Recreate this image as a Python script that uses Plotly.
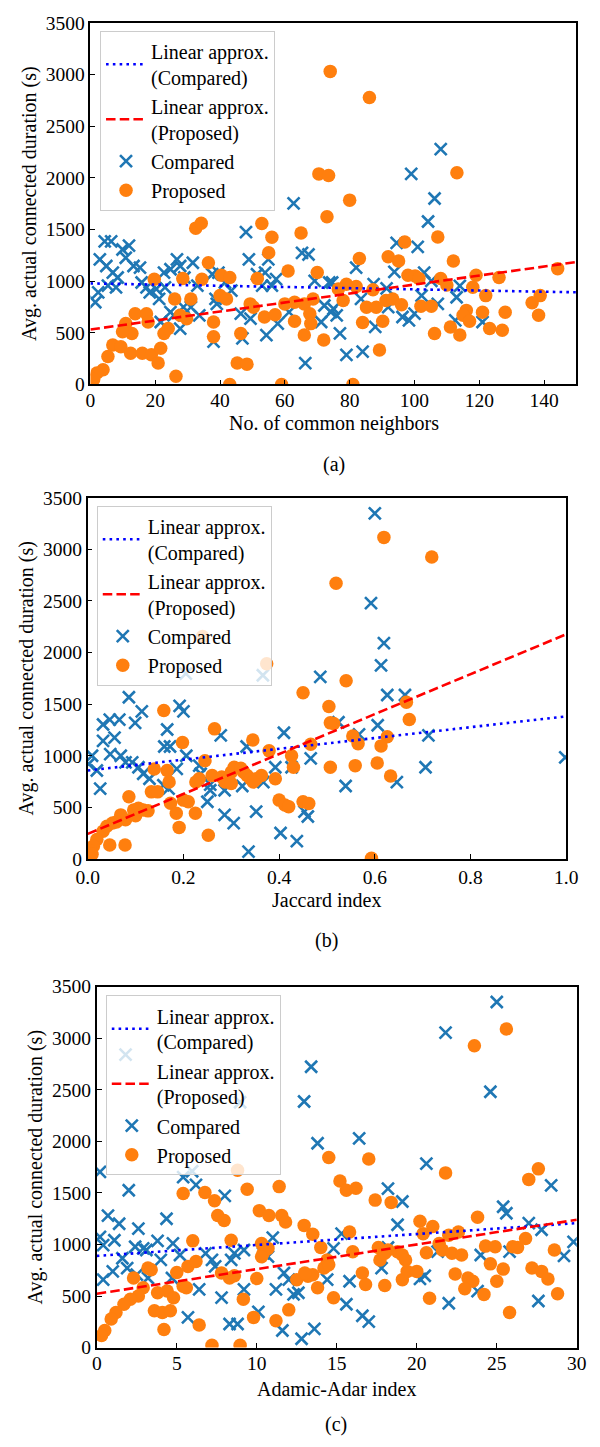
import plotly.graph_objects as go

# ---------------- data ----------------
# Panel (a): No. of common neighbors
a_compared = [(62.7,1752),(48,1475),(4.4,1385),(6.4,1385),(2.9,1210),(4.9,1147),(2.4,892),(1.5,796),(9.9,1306),(11.9,1344),
              (10.9,1226),(13.3,1147),(15.3,1131),(6.9,1083),(8.4,1035),(5.4,956),(7.9,940),(15.8,987),(17.3,940),(18.3,892),
              (20.3,924),(22.7,1083),(24.7,1115),(26.7,1210),(27.7,1147),(31.6,1178),(29,1035),(33,956),(21.2,828),(23,940),
              (28.7,748),(31,748),(33.6,669),(21.7,605),(27.7,541),(39.5,1083),(37.6,1067),(41.5,987),(43.5,908),(38.6,828),
              (39,780),(46.4,685),(48.9,1210),(51.4,1067),(49.4,637),(53.9,1083),(54.9,1210),(57.3,1019),(56,956),(53,956),
              (61.3,700),(57.8,589),(54.3,478),(46.9,446),(38,414),(65.3,1274),(67.3,1258),(69.2,1003),(66.3,207),(71.2,605),
              (72.2,764),(74.2,700),(73.7,987),(24.7,700),(25.7,669),
              (108.1,2277),(99,2038),(106.2,1800),(104.2,1577),(94.5,1370),(101,1331),(82,1131),(93.8,1089),(103,1083),(105.2,1003),
              (87.4,971),(74.6,987),(91.4,930),(114,955),(102.2,860),(113,844),(83.5,828),(107.2,780),(91.9,748),(75,733),
              (76,669),(96.3,653),(98.3,621),(100,685),(87.9,557),(112.6,621),(121,605),(77,494),(79,287),(84,318)]
a_proposed = [(74,3030),(32.5,1513),(34.2,1561),(52.9,1557),(56,1424),(55,1274),(65,1465),(73,1624),(70.5,2038),(73.5,2022),
              (61,1099),(70,1083),(36.4,1178),(40.4,1057),(43,1035),(51.5,1025),(34.4,1019),(28.5,1025),(19.7,1019),(40,860),
              (42,828),(26,828),(31,828),(13.8,685),(17.3,685),(10.9,589),(12.8,494),(9.9,510),(22.7,494),(24,541),
              (27.7,669),(29.7,637),(17.8,605),(38,605),(38,462),(46.4,494),(49.3,780),(50.3,748),(53.7,653),(57,675),
              (60,780),(63,796),(66,780),(68.7,828),(67.7,685),(68,589),(63,611),(66,478),(72,430),(6.9,382),
              (9.4,366),(5.4,271),(12.4,303),(16,303),(18.8,287),(21.7,350),(20.9,207),(3.9,143),(2,111),(1,48),
              (26.4,80),(45.3,207),(48.3,197),(43,0),(59,0),
              (86.1,2777),(113.1,2048),(80,1784),(107.2,1427),(97,1379),(83,1220),(91.9,1236),(95.1,1194),(112,1194),(98,1057),
              (100.2,1051),(101.4,1025),(108.1,1025),(110,962),(119,1057),(126.1,1035),(144.2,1121),(82,949),(79,971),(76.5,924),
              (87.2,917),(118,940),(122,860),(138.8,860),(136.3,790),(78,812),(85.2,748),(88.2,748),(91.2,812),(93.3,828),
              (96,771),(102,758),(105.2,758),(116,717),(121,700),(128,700),(138.3,669),(84,599),(90.2,611),(111.1,557),
              (115,669),(117,611),(106.2,494),(114,478),(123.2,541),(127.1,525),(89.2,334),(81,0)]
a_fit_x = [0, 150]
a_fit_compared = [978, 892]
a_fit_proposed = [532, 1185]

# Panel (b): Jaccard index
b_compared = [(0.6,3349),(0.592,2480),(0.619,2092),(0.613,1876),(0.626,1590),(0.663,1590),(0.606,1297),(0.524,1326),(0.567,1208),(0.712,1199),
              (0.706,890),(0.539,709),(0.646,747),(0.998,986),
              (0.205,1797),(0.366,1781),(0.486,1765),(0.086,1568),(0.113,1431),(0.099,1320),(0.192,1485),(0.2,1431),(0.032,1304),(0.046,1352),
              (0.066,1352),(0.032,1145),(0.056,1177),(0.009,1002),(0.002,922),(0.047,1018),(0.069,1002),(0.079,938),(0.093,938),(0.106,890),
              (0.116,827),(0.129,779),(0.026,684),(0.019,859),(0.166,1256),(0.16,1091),(0.172,1091),(0.278,1199),(0.332,1091),(0.206,1002),
              (0.186,874),(0.233,906),(0.236,827),(0.256,722),(0.256,668),(0.25,556),(0.158,716),(0.169,684),(0.286,668),(0.323,709),
              (0.367,747),(0.392,890),(0.41,1224),(0.426,890),(0.286,429),(0.305,350),(0.352,461),(0.403,254),(0.437,175),(0.336,73),
              (0.453,461),(0.46,413),(0.466,976)]
b_proposed = [(0.519,2671),(0.619,3116),(0.719,2926),(0.54,1727),(0.504,1479),(0.666,1520),(0.672,1352),(0.514,1313),(0.554,1193),(0.565,1119),
              (0.626,1186),(0.613,1097),(0.507,890),(0.559,906),(0.605,932),(0.633,805),(0.593,10),
              (0.24,2156),(0.374,1892),(0.45,1612),(0.507,1320),(0.159,1440),(0.265,1262),(0.198,1129),(0.345,1154),(0.379,1049),
              (0.426,1002),(0.466,1113),(0.245,954),(0.139,874),(0.166,859),(0.17,747),(0.26,811),(0.28,795),(0.3,843),(0.306,890),
              (0.32,880),(0.326,843),(0.333,811),(0.34,779),(0.353,779),(0.363,811),(0.287,747),(0.3,732),(0.346,747),(0.226,747),
              (0.233,779),(0.133,652),(0.146,652),(0.173,541),(0.2,572),(0.21,556),(0.185,445),(0.225,445),(0.191,308),(0.252,232),
              (0.086,604),(0.069,429),(0.096,477),(0.106,493),(0.116,477),(0.126,468),(0.079,381),(0.052,350),(0.032,270),(0.078,137),
              (0.046,137),(0.019,191),(0.012,127),(0.006,79),(0.009,48),(0.4,572),(0.412,525),(0.42,509),(0.45,556),(0.462,540),
              (0.392,779),(0.43,890),(0.04,318),(0.06,360),(0.1,420)]
b_fit_x = [0, 1]
b_fit_compared = [859, 1383]
b_fit_proposed = [245, 2178]

# Panel (c): Adamic-Adar index
c_compared = [(13.4,2723),(12.96,2386),(8.96,2379),(1.8,2841),(13.8,1981),(0.2,1704),(5.4,1653),(5.96,1710),(6.2,1577),(2,1526),
              (8,1471),(0.7,1280),(1.4,1201),(4.36,1249),(2.6,1153),(0.2,1073),(0.4,994),(1.1,1041),(2.4,978),(2.9,962),
              (3.1,946),(3.8,1035),(4.76,1010),(5.2,898),(1.6,866),(4,850),(6.8,914),(7.2,850),(7.4,787),(8.4,850),
              (8.6,914),(9.2,946),(11,1067),(10.4,914),(10.7,882),(0.4,659),(1,739),(1.9,771),(2.5,707),(3.2,675),
              (4.7,675),(6.4,564),(7.8,484),(9.2,564),(11.2,564),(11.7,723),(12,659),(12.3,516),(12.6,532),(10.1,347),
              (5.7,293),(8.3,229),(8.8,229),(11.6,166),(12.8,86),(13.6,182),(14.4,659),
              (25,3351),(21.8,3054),(24.6,2481),(16.4,2029),(20.6,1784),(18.2,1542),(19.1,1417),(28.4,1573),(25.4,1366),(25.6,1303),
              (18.8,1191),(27,1207),(27.8,1143),(15.3,1105),(14.8,962),(18.2,971),(21.3,930),(24,898),(25.8,930),(29.2,889),
              (29.8,1025),(17.8,771),(15.8,643),(20.2,666),(20.5,697),(23.8,548),(15.6,420),(16.6,309),(17,252),(22,430),(27.6,452)]
c_proposed = [(8.8,1720),(5.4,1494),(6.76,1503),(7.36,1424),(9.4,1535),(11.4,1561),(14.5,1844),(7.56,1280),(7.96,1233),(10.16,1328),
              (10.76,1280),(11.56,1280),(11.8,1217),(12.96,1185),(13.5,1099),(14,971),(6,1035),(8.4,1041),(10.3,1010),(10.7,962),
              (10.4,914),(10.3,880),(3.2,771),(3.4,755),(5,729),(5.7,787),(6.2,834),(2.3,675),(7.8,723),(8.3,675),
              (8.6,697),(10,669),(12.5,659),(13.2,691),(13.5,707),(13.8,580),(14.2,771),(14.4,850),(2.9,580),(2.6,500),
              (2.1,468),(3.8,532),(4.4,548),(4.8,484),(5.4,595),(5.6,580),(1.7,420),(1.2,341),(0.9,277),(0.5,166),
              (0.3,118),(3.6,357),(4.1,341),(4.6,357),(4.2,175),(6.4,220),(9.16,468),(9.8,293),(11.2,261),(12,366),
              (7.2,22),(8.96,22),(13,723),
              (25.6,3090),(23.6,2927),(17,1828),(21.8,1694),(15.2,1615),(15.6,1526),(16.2,1545),(17.4,1430),(18.4,1408),(27,1631),
              (27.6,1733),(15.8,1121),(20.2,1226),(21,1175),(20.4,1105),(23.8,1264),(22,1089),(22.6,1121),(17.6,971),(16,930),
              (18.2,946),(18.8,930),(19.1,898),(19.3,850),(17.7,850),(18,914),(20.6,920),(21.4,1010),(21.6,946),(22.2,914),
              (22.8,898),(24.3,984),(24.9,978),(26,978),(26.3,971),(26.8,1057),(28.6,946),(24.6,812),(25.4,761),(16.6,723),
              (16.8,611),(18,602),(19.1,659),(19.4,739),(20,739),(22.4,713),(23.2,675),(23.5,643),(23,570),(24.2,516),
              (25,643),(27.2,771),(27.8,739),(28.2,666),(28.8,522),(25.8,341),(14.8,484),(20.8,478),(14.5,803)]
c_fit_x = [0, 30]
c_fit_compared = [889, 1207]
c_fit_proposed = [522, 1239]

y_ticks = [0, 500, 1000, 1500, 2000, 2500, 3000, 3500]
a_xticks = [0, 20, 40, 60, 80, 100, 120, 140]
b_xticks = [0.0, 0.2, 0.4, 0.6, 0.8, 1.0]
b_xticklabels = ["0.0", "0.2", "0.4", "0.6", "0.8", "1.0"]
c_xticks = [0, 5, 10, 15, 20, 25, 30]

x_titles = ["No. of common neighbors", "Jaccard index", "Adamic-Adar index"]
y_title = "Avg. actual connected duration (s)"
sub_labels = ["(a)", "(b)", "(c)"]

# ---------------- styling / layout ----------------
W, H = 600, 1447
FONT = "Liberation Serif, Times New Roman, serif"
BLUE = "#1f77b4"
ORANGE = "#ff7f0e"

# plot areas in pixels: (left, right, top, bottom)
areas = [(81.7, 588.0, 13.0, 380.0),
         (78.9, 577.3, 494.9, 861.7),
         (88.3, 588.3, 991.0, 1357.3)]
x_standoff = [-3, 0, -3]
x_title_px = [(335, 420), (328, 903), (338, 1399)]
sub_px = [(335, 461), (328, 944), (338, 1435)]
y_title_px = [(18, 196.5), (15, 678), (24.5, 1174)]
legend_px = [(91.7, 21), (88.3, 503), (97.7, 999.7)]

panels = [
    (a_compared, a_proposed, a_fit_x, a_fit_compared, a_fit_proposed, [0, 150], a_xticks, [str(v) for v in a_xticks]),
    (b_compared, b_proposed, b_fit_x, b_fit_compared, b_fit_proposed, [0, 1], b_xticks, b_xticklabels),
    (c_compared, c_proposed, c_fit_x, c_fit_compared, c_fit_proposed, [0, 30], c_xticks, [str(v) for v in c_xticks]),
]

fig = go.Figure()
layout = dict(width=W, height=H, margin=dict(l=0, r=0, t=0, b=0),
              paper_bgcolor="white", plot_bgcolor="white",
              font=dict(family=FONT, size=20, color="black"), annotations=[])

for i, (cmp, prp, fx, fc, fp, xr, xt, xtl) in enumerate(panels):
    n = "" if i == 0 else str(i + 1)
    xa, ya = "x" + n, "y" + n
    leg = "legend" + n
    fig.add_trace(go.Scatter(x=[p[0] for p in cmp], y=[p[1] for p in cmp], mode="markers", name="Compared",
                             xaxis=xa, yaxis=ya, legend=leg, legendrank=3,
                             marker=dict(symbol="x-thin", size=12, line=dict(width=2.6, color=BLUE), color=BLUE)))
    fig.add_trace(go.Scatter(x=[p[0] for p in prp], y=[p[1] for p in prp], mode="markers", name="Proposed",
                             xaxis=xa, yaxis=ya, legend=leg, legendrank=4,
                             marker=dict(symbol="circle", size=13.5, color=ORANGE, line=dict(width=0))))
    fig.add_trace(go.Scatter(x=fx, y=fc, mode="lines", name="Linear approx.<br>(Compared)",
                             xaxis=xa, yaxis=ya, legend=leg, legendrank=1,
                             line=dict(color="#0000ff", width=2.6, dash="2.6px,4.2px")))
    fig.add_trace(go.Scatter(x=fx, y=fp, mode="lines", name="Linear approx.<br>(Proposed)",
                             xaxis=xa, yaxis=ya, legend=leg, legendrank=2,
                             line=dict(color="#ff0000", width=2.6, dash="9.5px,4.2px")))

    l, r, t, b = areas[i]
    axis_common = dict(showline=True, mirror=True, linecolor="black", linewidth=1.5,
                       ticks="inside", ticklen=5, tickwidth=1.3, tickcolor="black",
                       showgrid=False, zeroline=False,
                       tickfont=dict(family=FONT, size=19.5, color="black"))
    layout["xaxis" + n] = dict(domain=[l / W, r / W], range=xr, tickvals=xt, ticktext=xtl,
                               anchor=ya, ticklabelstandoff=x_standoff[i], **axis_common)
    layout["yaxis" + n] = dict(domain=[1 - b / H, 1 - t / H], range=[0, 3500], tickvals=y_ticks,
                               anchor=xa, **axis_common)
    lx, ly = legend_px[i]
    layout[leg] = dict(x=lx / W, y=1 - ly / H, xanchor="left", yanchor="top",
                       bgcolor="rgba(255,255,255,0.8)", bordercolor="#cccccc", borderwidth=1,
                       font=dict(family=FONT, size=20, color="black"),
                       itemwidth=40, tracegroupgap=0, traceorder="normal")
    tx, ty = x_title_px[i]
    layout["annotations"].append(dict(text=x_titles[i], x=tx / W, y=1 - ty / H, xref="paper", yref="paper",
                                      xanchor="center", yanchor="middle", showarrow=False,
                                      font=dict(family=FONT, size=20, color="black")))
    sx, sy = sub_px[i]
    layout["annotations"].append(dict(text=sub_labels[i], x=sx / W, y=1 - sy / H, xref="paper", yref="paper",
                                      xanchor="center", yanchor="middle", showarrow=False,
                                      font=dict(family=FONT, size=20, color="black")))
    yx, yy = y_title_px[i]
    layout["annotations"].append(dict(text=y_title, x=yx / W, y=1 - yy / H, xref="paper", yref="paper",
                                      xanchor="center", yanchor="middle", showarrow=False, textangle=-90,
                                      font=dict(family=FONT, size=20, color="black")))

fig.update_layout(**layout)
fig.write_html("out.html")
